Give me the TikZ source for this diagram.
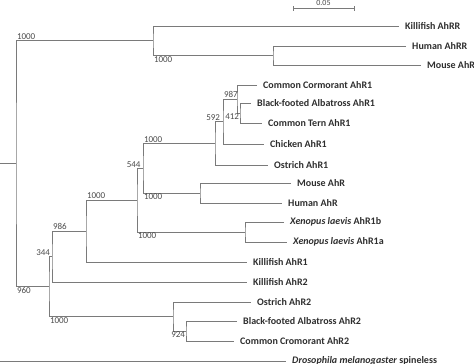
\documentclass[tikz,border=0pt]{standalone}
\usepackage{fontspec}
\setmainfont{Carlito}
\usetikzlibrary{calc}
\definecolor{lineg}{HTML}{7A7A7A}
\definecolor{txt}{HTML}{2E2E2E}
\definecolor{bsg}{HTML}{4A4A4A}
\begin{document}
\begin{tikzpicture}[x=1pt,y=-1pt,
  branch/.style={draw=lineg, line width=0.8pt},
  leaf/.style={anchor=west, inner xsep=6pt, inner ysep=0pt, text=txt,
    font=\fontsize{10}{12}\selectfont\bfseries},
  bs/.style={inner sep=0.8pt, text=bsg, font=\fontsize{9}{10}\selectfont}]
\useasboundingbox (0,0) rectangle (474,364);
% internal nodes
\coordinate (n1) at (16,163.6);
\coordinate (nAhRR) at (153,40.75);
\coordinate (nHM) at (273,55.5);
\coordinate (n2) at (49,286.5);
\coordinate (n3) at (52,256.5);
\coordinate (n4) at (86,231);
\coordinate (n5) at (137,200);
\coordinate (n6) at (143,168.1);
\coordinate (nBird) at (215,143.25);
\coordinate (n592) at (223,121.5);
\coordinate (n987) at (237,99);
\coordinate (n412) at (240,113);
\coordinate (nMam) at (200,193);
\coordinate (nX) at (245,232);
\coordinate (nB2) at (173,316.5);
\coordinate (n924) at (186,331);
\coordinate (rootA) at (0,163.6);
\coordinate (rootB) at (0,361);
% leaves
\node[leaf] (kAhRR) at (399,26) {Killifish AhRR};
\node[leaf] (hAhRR) at (406,46) {Human AhRR};
\node[leaf] (mAhRR) at (421,65) {Mouse AhRR};
\node[leaf] (corm1) at (257,85) {Common Cormorant AhR1};
\node[leaf] (alb1) at (251,103) {Black-footed Albatross AhR1};
\node[leaf] (tern1) at (262,123) {Common Tern AhR1};
\node[leaf] (chick1) at (264,144) {Chicken AhR1};
\node[leaf] (ost1) at (268,165) {Ostrich AhR1};
\node[leaf] (mAhR) at (291,183) {Mouse AhR};
\node[leaf] (hAhR) at (282,203) {Human AhR};
\node[leaf] (xenb) at (284,222) {\textit{Xenopus laevis} AhR1b};
\node[leaf] (xena) at (287,242) {\textit{Xenopus laevis} AhR1a};
\node[leaf] (kAhR1) at (247,262) {Killifish AhR1};
\node[leaf] (kAhR2) at (247,282) {Killifish AhR2};
\node[leaf] (ost2) at (251,302) {Ostrich AhR2};
\node[leaf] (alb2) at (237,321) {Black-footed Albatross AhR2};
\node[leaf] (crom2) at (234,341) {Common Cromorant AhR2};
\node[leaf] (dros) at (286,361) {\textit{Drosophila melanogaster} spineless};
% branches
\draw[branch] (kAhRR.west) -| (nAhRR) |- (nHM);
\draw[branch] (hAhRR.west) -| (nHM) |- (mAhRR.west);
\draw[branch] (nAhRR) -| (n1) |- (n2);
\draw[branch] (n3) -| (n2) |- (nB2);
\draw[branch] (n4) -| (n3) |- (kAhR2.west);
\draw[branch] (n5) -| (n4) |- (kAhR1.west);
\draw[branch] (n6) -| (n5) |- (nX);
\draw[branch] (nBird) -| (n6) |- (nMam);
\draw[branch] (n592) -| (nBird) |- (ost1.west);
\draw[branch] (n987) -| (n592) |- (chick1.west);
\draw[branch] (corm1.west) -| (n987) |- (n412);
\draw[branch] (alb1.west) -| (n412) |- (tern1.west);
\draw[branch] (mAhR.west) -| (nMam) |- (hAhR.west);
\draw[branch] (xenb.west) -| (nX) |- (xena.west);
\draw[branch] (ost2.west) -| (nB2) |- (n924);
\draw[branch] (alb2.west) -| (n924) |- (crom2.west);
\draw[branch] (n1) -- (rootA);
\draw[branch] (rootB) -- (dros.west);
% bootstrap values
\node[bs, anchor=south west] (b1) at (n1 |- nAhRR) {1000};
\node[bs, anchor=north west] (b2) at (nAhRR |- nHM) {1000};
\node[bs, anchor=south west] (b987) at (n592 |- n987) {987};
\node[bs, anchor=south east] (b592) at ([xshift=-2pt]n592) {592};
\node[bs, anchor=north east] (b412) at (n412) {412};
\node[bs, anchor=south east] (b544) at ([xshift=-1.5pt]n6) {544};
\node[bs, anchor=south west] (bBird) at (n6 |- nBird) {1000};
\node[bs, anchor=north west] (bMam) at (n6 |- nMam) {1000};
\node[bs, anchor=south west] (b5) at (n4 |- n5) {1000};
\node[bs, anchor=north west] (bX) at (n5 |- nX) {1000};
\node[bs, anchor=south west] (b986) at (n3 |- n4) {986};
\node[bs, anchor=south east] (b344) at ([xshift=-1pt]n3) {344};
\node[bs, anchor=north west] (b960) at (n1 |- n2) {960};
\node[bs, anchor=north west] (bB2) at (n2 |- nB2) {1000};
\node[bs, anchor=north east] (b924) at (n924) {924};
% scale bar
\coordinate (sbL) at (293,8);
\coordinate (sbR) at (354,8);
\coordinate (sbM) at ($(sbL)!0.5!(sbR)$);
\draw[branch] (sbL) -- (sbR);
\draw[branch] ([yshift=-2.5pt]sbL) -- ([yshift=2.5pt]sbL);
\draw[branch] ([yshift=-2.5pt]sbR) -- ([yshift=2.5pt]sbR);
\node[bs, anchor=south, font=\fontsize{8}{9}\selectfont] (sbT) at ([yshift=1pt]sbM) {0.05};
\end{tikzpicture}
\end{document}
